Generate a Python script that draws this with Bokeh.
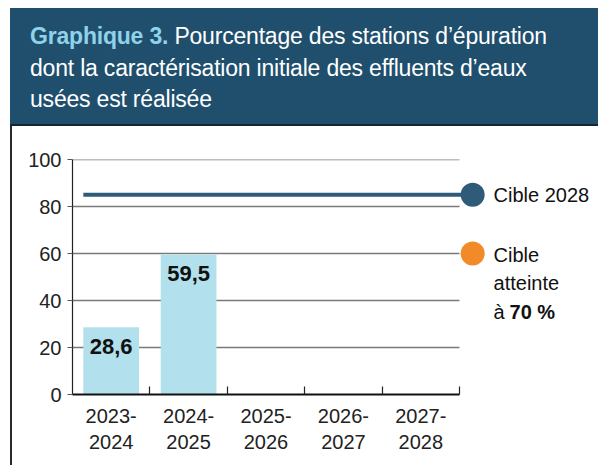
from bokeh.plotting import figure
from bokeh.models import (Div, Range1d, LinearAxis, FixedTicker, Label, ColumnDataSource)
from bokeh.layouts import column, row
from bokeh.core.properties import value
from bokeh.embed import file_html
from bokeh.resources import INLINE

# ---- data ----
categories = ["2023-\n2024", "2024-\n2025", "2025-\n2026", "2026-\n2027", "2027-\n2028"]
values = [28.6, 59.5]
value_labels = ["28,6", "59,5"]
target_2028 = 85
target_reached = 60
y_ticks = [0, 20, 40, 60, 80, 100]

FONT = "Liberation Sans"
HEADER_BG = "#1f4f6d"
BAR = "#b2e0ec"
NAVY = "#2f5b79"
ORANGE = "#f28a2a"

n = len(categories)
xs = [i + 0.5 for i in range(n)]

# ---- header ----
header_html = (
    f'<div style="margin-left:2px;width:588px;height:118px;background:{HEADER_BG};'
    f'border-bottom:2px solid #16262f;'
    f'font-family:\'{FONT}\';font-size:23px;line-height:31.5px;color:#ffffff;'
    f'padding:13px 0 0 20px;box-sizing:border-box;letter-spacing:-0.2px;">'
    f'<span style="color:#8fd2ea;font-weight:bold">Graphique 3.</span> '
    f'Pourcentage des stations d’épuration<br>'
    f'dont la caractérisation initiale des effluents d’eaux<br>'
    f'usées est réalisée</div>'
)
header = Div(text=header_html, width=590, height=118, margin=(0, 0, 0, 0))

border = Div(text='<div style="margin-left:2px;width:2px;height:339px;background:#2a2a2a"></div>',
             width=4, height=339, margin=(0, 0, 0, 0))

# ---- figure ----
cat_px = 77.4
frame_w = 526
p = figure(width=586, height=339, output_backend="svg", toolbar_location=None,
           x_range=Range1d(0, frame_w / cat_px), y_range=Range1d(0, 100),
           min_border_left=60, min_border_right=0, min_border_top=33, min_border_bottom=71,
           x_axis_type=None, y_axis_type=None, margin=(0, 0, 0, 0))
p.outline_line_color = None
p.xgrid.visible = False
p.ygrid.visible = False
p.background_fill_color = "white"
p.border_fill_color = "white"

# grid lines over the category span
grid_y = [t for t in y_ticks if t > 0]
p.segment(x0=[0] * len(grid_y), x1=[n] * len(grid_y), y0=grid_y, y1=grid_y,
          line_color="#7a7a7a", line_width=1.5)

# bars
bar_w = 0.72
src = ColumnDataSource(dict(x=xs[:len(values)], top=values, lab=value_labels))
p.vbar(x="x", top="top", width=bar_w, source=src, fill_color=BAR, line_color=None)
p.text(x="x", y="top", text="lab", source=src, text_align="center", text_baseline="middle",
       y_offset=19, text_font=value(FONT), text_font_style="bold", text_font_size="22px",
       text_color="#111111")

# target line
end_x = n + 0.17
p.line(x=[xs[0] - bar_w / 2, end_x], y=[target_2028, target_2028], line_color=NAVY, line_width=4)
p.scatter(x=[end_x], y=[target_2028], size=24, fill_color=NAVY, line_color=None)
p.scatter(x=[end_x], y=[target_reached], size=24, fill_color=ORANGE, line_color=None)

lab_x = n + 0.44
def lbl(text, y, yoff=0, xoff=0, bold=False):
    p.add_layout(Label(x=lab_x, y=y, text=text, x_offset=xoff, y_offset=yoff,
                       text_font=FONT, text_font_size="20px", text_baseline="middle",
                       text_font_style="bold" if bold else "normal", text_color="#111111"))

lbl("Cible 2028", target_2028)
lbl("Cible", target_reached, yoff=-1)
lbl("atteinte", target_reached, yoff=-29)
lbl("à", target_reached, yoff=-58)
lbl("70 %", target_reached, yoff=-58, xoff=16, bold=True)

# axes
xaxis = LinearAxis(ticker=FixedTicker(ticks=xs, minor_ticks=list(range(1, n + 1))),
                   major_label_overrides={x: c for x, c in zip(xs, categories)},
                   bounds=(0, n))
xaxis.axis_line_color = "#111111"
xaxis.axis_line_width = 2
xaxis.major_tick_line_color = None
xaxis.minor_tick_in = 8
xaxis.minor_tick_out = 0
xaxis.minor_tick_line_color = "#222222"
xaxis.minor_tick_line_width = 1.2
xaxis.major_label_text_font = FONT
xaxis.major_label_text_font_size = "20px"
xaxis.major_label_text_color = "#222222"
xaxis.major_label_standoff = 4
p.add_layout(xaxis, "below")

yaxis = LinearAxis(ticker=FixedTicker(ticks=y_ticks, minor_ticks=[]))
yaxis.axis_line_color = "#222222"
yaxis.axis_line_width = 1.2
yaxis.major_tick_in = 0
yaxis.major_tick_out = 5
yaxis.major_tick_line_color = "#555555"
yaxis.major_label_text_font = FONT
yaxis.major_label_text_font_size = "20px"
yaxis.major_label_text_color = "#222222"
yaxis.major_label_standoff = 6
p.add_layout(yaxis, "left")

layout = column(header, row(border, p, margin=(0, 0, 0, 0), spacing=0),
                margin=(8, 0, 0, 8), spacing=0)

open("out.html", "w").write(file_html(layout, INLINE))
